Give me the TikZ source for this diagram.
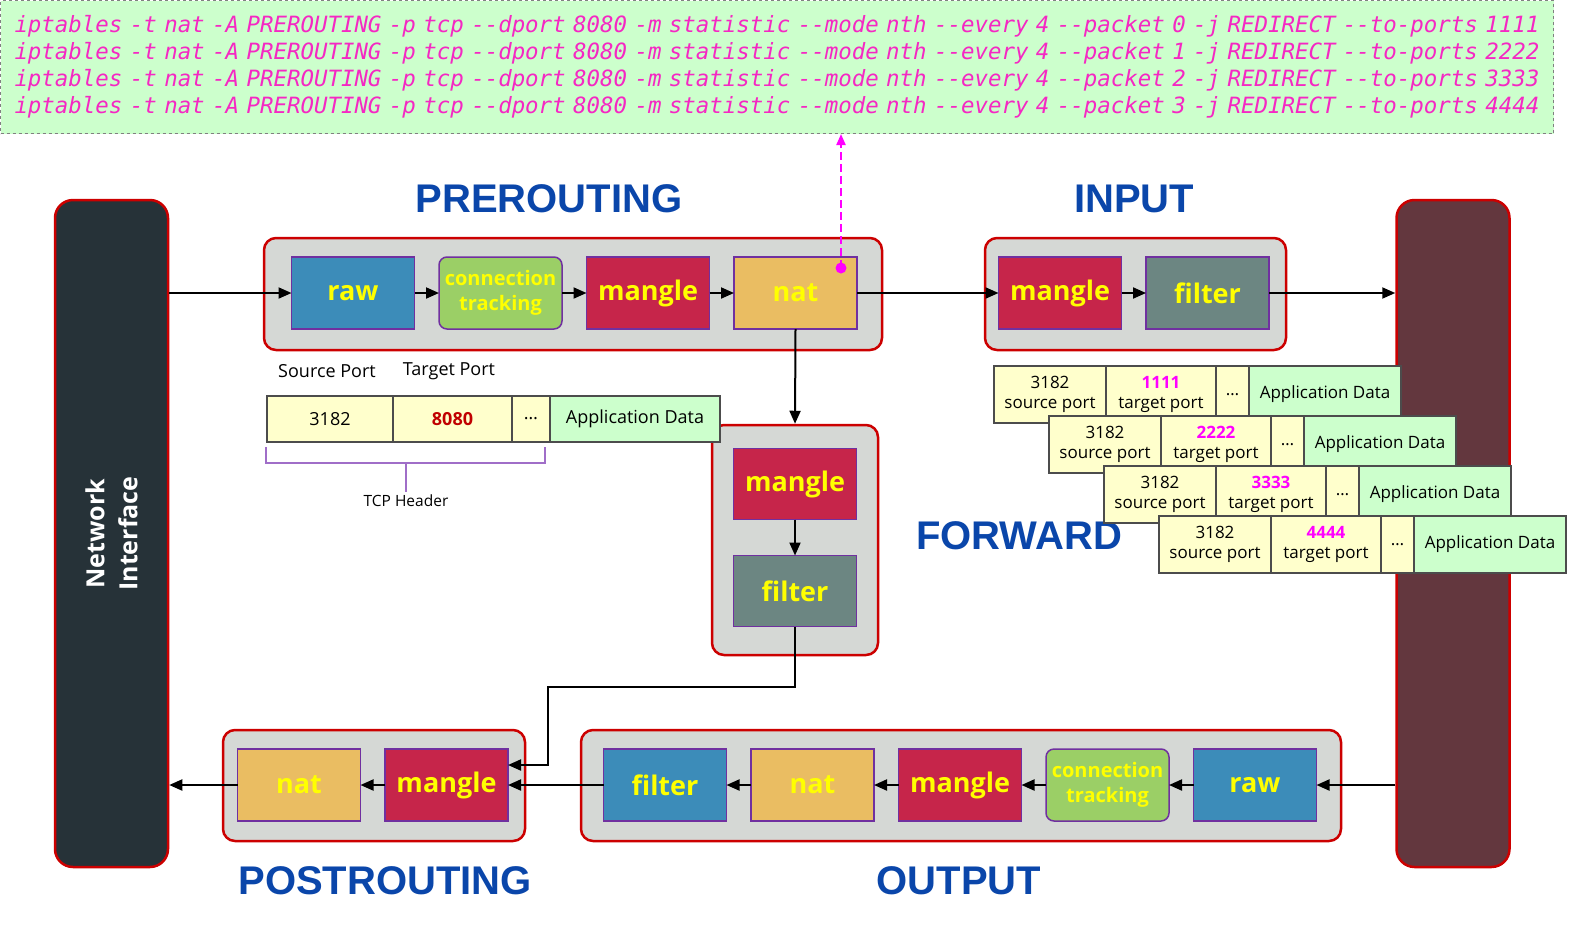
\documentclass[tikz,border=0pt]{standalone}
\usepackage{fontspec}
\usepackage{xcolor}
\usetikzlibrary{arrows.meta, positioning}

\newfontfamily\codefont{DejaVu Sans Mono}
\newfontfamily\uifont{Open Sans}
\newfontfamily\headfont{Liberation Sans}

\definecolor{cmdGreen}{RGB}{204,255,204}
\definecolor{cmdMag}{RGB}{245,40,195}
\definecolor{stageRed}{RGB}{204,0,0}
\definecolor{stageGray}{RGB}{213,216,213}
\definecolor{tblPurple}{RGB}{112,48,160}
\definecolor{tblYellow}{RGB}{255,255,0}
\definecolor{rawBlue}{RGB}{60,140,185}
\definecolor{ctGreen}{RGB}{155,207,102}
\definecolor{mangleRed}{RGB}{198,37,74}
\definecolor{natOrange}{RGB}{234,189,98}
\definecolor{filterGray}{RGB}{108,134,130}
\definecolor{titleBlue}{RGB}{10,70,170}
\definecolor{niDark}{RGB}{38,50,56}
\definecolor{lpDark}{RGB}{99,55,62}
\definecolor{pktYellow}{RGB}{255,255,204}
\definecolor{pktGreen}{RGB}{204,255,204}
\definecolor{portMag}{RGB}{255,0,255}
\definecolor{portRed}{RGB}{192,0,0}
\definecolor{braceLilac}{RGB}{160,110,200}

\begin{document}
\begin{tikzpicture}[x=1pt, y=-1pt,
    stage/.style={draw=stageRed, line width=2.5pt, fill=stageGray, rounded corners=12pt, inner sep=0pt},
    bar/.style={draw=stageRed, line width=2.5pt, rounded corners=18pt, minimum width=667pt, minimum height=113pt, rotate=90},
    tbl/.style={draw=tblPurple, line width=1.5pt, minimum width=123pt, minimum height=72pt, inner sep=0pt, outer sep=0pt,
        text=tblYellow, font=\uifont\bfseries\fontsize{27}{30}\selectfont},
    conntrack/.style={tbl, fill=ctGreen, rounded corners=8pt, align=center,
        font=\uifont\bfseries\fontsize{20}{25}\selectfont},
    title/.style={text=titleBlue, font=\headfont\bfseries\fontsize{40}{44}\selectfont},
    arr/.style={line width=2pt, -{Triangle[length=13pt,width=11pt]}},
    cell/.style={draw=black!70, line width=1.5pt, inner sep=0pt, outer sep=0pt, align=center,
        font=\uifont\fontsize{17}{20}\selectfont},
    maincell/.style={cell, minimum height=46pt, font=\uifont\fontsize{18}{21}\selectfont},
    stackcell/.style={cell, minimum height=57pt}]

\useasboundingbox (0,0) rectangle (1577,938);

% iptables commands
\node[draw=black!50, dashed, line width=1pt, fill=cmdGreen, anchor=north west, text width=1525pt,
      inner xsep=14pt, inner ysep=0pt, minimum height=133pt, align=left, text=cmdMag,
      font=\codefont\itshape\fontsize{22.4}{27}\selectfont] (cmds) at (0,0)
  {iptables -t nat -A PREROUTING -p tcp -{}-dport 8080 -m statistic -{}-mode nth -{}-every 4 -{}-packet 0 -j REDIRECT -{}-to-ports 1111\\
   iptables -t nat -A PREROUTING -p tcp -{}-dport 8080 -m statistic -{}-mode nth -{}-every 4 -{}-packet 1 -j REDIRECT -{}-to-ports 2222\\
   iptables -t nat -A PREROUTING -p tcp -{}-dport 8080 -m statistic -{}-mode nth -{}-every 4 -{}-packet 2 -j REDIRECT -{}-to-ports 3333\\
   iptables -t nat -A PREROUTING -p tcp -{}-dport 8080 -m statistic -{}-mode nth -{}-every 4 -{}-packet 3 -j REDIRECT -{}-to-ports 4444};

% side bars (rotated: .south is the right edge, .north the left edge)
\node[bar, fill=niDark, text=white, align=center, font=\uifont\bfseries\fontsize{25}{33}\selectfont] (ni) at (111.5,533.5) {Network\\Interface};
\node[bar, fill=lpDark] (lp) at (1453,533.5) {};

% chain boxes
\node[stage, minimum width=618pt, minimum height=112pt] (preBox) at (573,294) {};
\node[stage, minimum width=301pt, minimum height=112pt] (inBox) at (1135.5,294) {};
\node[stage, minimum width=166pt, minimum height=230pt] (fwdBox) at (795,540) {};
\node[stage, minimum width=302pt, minimum height=111pt] (postBox) at (374,785.5) {};
\node[stage, minimum width=760pt, minimum height=111pt] (outBox) at (961,785.5) {};

% chain titles
\node[title] (preTitle) at (549,199) {PREROUTING};
\node[title] (inTitle) at (1134,199) {INPUT};
\node[title] (fwdTitle) at (1019,536) {FORWARD};
\node[title] (postTitle) at (385,881) {POSTROUTING};
\node[title] (outTitle) at (959,881) {OUTPUT};

% PREROUTING tables
\node[tbl, fill=rawBlue] (preRaw) at (353,293) {raw};
\node[conntrack, right=24.5pt of preRaw] (preCt) {connection\\tracking};
\node[tbl, fill=mangleRed, right=24.5pt of preCt] (preMangle) {mangle};
\node[tbl, fill=natOrange, right=24.5pt of preMangle] (preNat) {nat};

% INPUT tables
\node[tbl, fill=mangleRed] (inMangle) at (1060,293) {mangle};
\node[tbl, fill=filterGray, right=24.5pt of inMangle] (inFilter) {filter};

% FORWARD tables
\node[tbl, fill=mangleRed, minimum height=71pt] (fwdMangle) at (795,484) {mangle};
\node[tbl, fill=filterGray, minimum height=71pt, below=36pt of fwdMangle] (fwdFilter) {filter};

% POSTROUTING tables
\node[tbl, fill=natOrange] (postNat) at (299,785) {nat};
\node[tbl, fill=mangleRed, right=24.5pt of postNat] (postMangle) {mangle};

% OUTPUT tables
\node[tbl, fill=rawBlue] (outFilter) at (665,785) {filter};
\node[tbl, fill=natOrange, right=24.5pt of outFilter] (outNat) {nat};
\node[tbl, fill=mangleRed, right=24.5pt of outNat] (outMangle) {mangle};
\node[conntrack, right=24.5pt of outMangle] (outCt) {connection\\tracking};
\node[tbl, fill=rawBlue, right=24.5pt of outCt] (outRaw) {raw};

% incoming packets
\draw[arr] (preRaw.west -| ni.south) -- (preRaw.west);
\draw[arr] (preRaw) -- (preCt);
\draw[arr] (preCt) -- (preMangle);
\draw[arr] (preMangle) -- (preNat);
\draw[arr] (preNat) -- (inMangle);
\draw[arr] (inMangle) -- (inFilter);
\draw[arr] (inFilter.east) -- (inFilter.east -| lp.north);

% forwarded packets
\draw[arr] (preNat.south) -- (fwdBox.north);
\draw[arr] (fwdMangle) -- (fwdFilter);
\coordinate (fwdTurn) at (548,687);
\draw[arr] (fwdFilter.south) |- (fwdTurn) |- ([yshift=20pt]postMangle.east);

% outgoing packets
\draw[arr] (outRaw.east -| lp.north) -- (outRaw.east);
\draw[arr] (outRaw) -- (outCt);
\draw[arr] (outCt) -- (outMangle);
\draw[arr] (outMangle) -- (outNat);
\draw[arr] (outNat) -- (outFilter);
\draw[arr] (outFilter) -- (postMangle);
\draw[arr] (postMangle) -- (postNat);
\draw[arr] (postNat.west) -- (postNat.west -| ni.south);

% rule hook on nat
\coordinate (natDot) at (841,268);
\fill[portMag] (natDot) circle (5.5);
\draw[portMag, dash pattern=on 8pt off 4pt, line width=2pt, -{Triangle[length=11pt,width=9pt]}] (natDot) -- (natDot |- cmds.south);

% original packet
\node[font=\uifont\fontsize{18}{21}\selectfont] (srcLbl) at (327,371) {Source Port};
\node[font=\uifont\fontsize{18}{21}\selectfont] (dstLbl) at (449,371) {Target Port};
\node[maincell, fill=pktYellow, minimum width=126pt, anchor=north west] (mSrc) at (267,396) {3182};
\node[maincell, fill=pktYellow, minimum width=119pt, right=0pt of mSrc, text=portRed, font=\uifont\bfseries\fontsize{18}{21}\selectfont] (mDst) {8080};
\node[maincell, fill=pktYellow, minimum width=38pt, right=0pt of mDst] (mDots) {\ldots};
\node[maincell, fill=pktGreen, minimum width=170pt, right=0pt of mDots] (mApp) {Application Data};

% TCP header brace
\node[font=\uifont\fontsize{15.5}{18}\selectfont] (tcpHdr) at (406,501) {TCP Header};
\draw[braceLilac, line width=1.5pt] (266,447) -- (266,463) -- (545,463) -- (545,447);
\draw[braceLilac, line width=1.5pt] (tcpHdr.north |- 0,463) -- (tcpHdr.north);

% redirected packets
\foreach \i/\port in {0/1111,1/2222,2/3333,3/4444}{
  \node[stackcell, fill=pktYellow, minimum width=112pt, anchor=north west] (s\i) at ({994+55*\i},{366+50*\i}) {3182\\source port};
  \node[stackcell, fill=pktYellow, minimum width=110pt, right=0pt of s\i] (t\i) {{\bfseries\color{portMag}\port}\\target port};
  \node[stackcell, fill=pktYellow, minimum width=33pt, right=0pt of t\i] (d\i) {\ldots};
  \node[stackcell, fill=pktGreen, minimum width=152pt, right=0pt of d\i] (a\i) {Application Data};
}
\end{tikzpicture}
\end{document}
